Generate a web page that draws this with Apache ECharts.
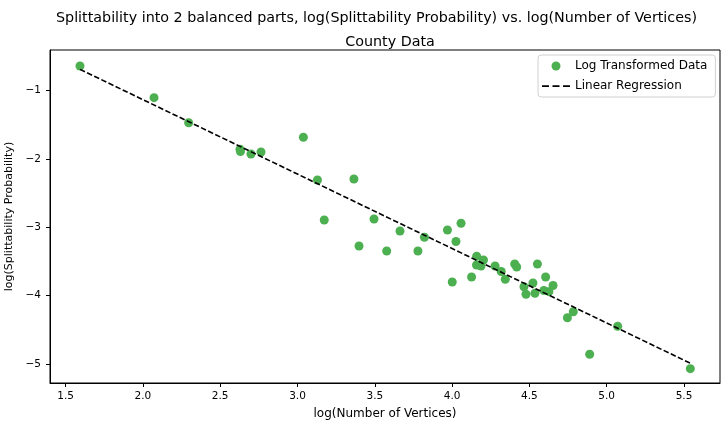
<!DOCTYPE html>
<html>
<head>
<meta charset="utf-8">
<script src="https://cdn.jsdelivr.net/npm/echarts@6/dist/echarts.min.js"></script>
<style>
  html, body { margin: 0; padding: 0; background: #fff; }
  #chart { width: 728px; height: 427px; }
</style>
</head>
<body>
<div id="chart"></div>
<script>
// log(Number of Vertices)
const logVertices = [
  1.593, 2.072, 2.296, 2.628, 2.631, 2.699, 2.764, 3.038, 3.129, 3.173,
  3.365, 3.398, 3.495, 3.577, 3.663, 3.779, 3.821, 3.970, 4.001, 4.025,
  4.058, 4.126, 4.159, 4.203, 4.158, 4.187, 4.278, 4.318, 4.344, 4.405,
  4.418, 4.465, 4.478, 4.523, 4.536, 4.552, 4.594, 4.605, 4.626, 4.653,
  4.746, 4.784, 4.890, 5.071, 5.541
]
// log(Splittability Probability)
const logProb = [
  -0.638, -1.102, -1.469, -1.858, -1.890, -1.927, -1.897, -1.682, -2.307, -2.893,
  -2.293, -3.274, -2.878, -3.347, -3.054, -3.347, -3.146, -3.040, -3.801, -3.208,
  -2.941, -3.728, -3.423, -3.479, -3.552, -3.567, -3.567, -3.647, -3.761, -3.537,
  -3.581, -3.870, -3.980, -3.816, -3.966, -3.537, -3.925, -3.728, -3.943, -3.852,
  -4.324, -4.237, -4.859, -4.449, -5.070
]
// regression line
const fitSlope = -1.090
const fitIntercept = 1.049
const xTicks = [1.5, 2.0, 2.5, 3.0, 3.5, 4.0, 4.5, 5.0, 5.5]
const yTicks = [-5, -4, -3, -2, -1]

const points = logVertices.map((x, i) => [x, logProb[i]])
const xFirst = Math.min(...logVertices)
const xLast = Math.max(...logVertices)
const fitLine = [xFirst, xLast].map(x => [x, fitIntercept + fitSlope * x])

const font = 'DejaVu Sans'
const minus = v => String(v).replace('-', '\u2212')

const chart = echarts.init(document.getElementById('chart'))
chart.setOption({
  animation: false,
  title: [
    {
      text: 'Splittability into 2 balanced parts, log(Splittability Probability) vs. log(Number of Vertices)',
      left: 51,
      top: 6,
      textStyle: { fontFamily: font, fontSize: 14.3, fontWeight: 'normal', color: '#000' }
    },
    {
      text: 'County Data',
      left: 385,
      textAlign: 'center',
      top: 30,
      textStyle: { fontFamily: font, fontSize: 14.3, fontWeight: 'normal', color: '#000' }
    }
  ],
  grid: {
    left: 50,
    top: 50,
    width: 670,
    height: 333,
    outerBoundsMode: 'none',
    containLabel: false,
    show: true,
    borderColor: '#000',
    borderWidth: 1
  },
  legend: {
    orient: 'vertical',
    left: 538,
    top: 55,
    padding: [5, 8, 5, 4],
    itemGap: 8,
    itemWidth: 28,
    itemHeight: 9,
    backgroundColor: '#fff',
    borderColor: '#d0d0d0',
    borderWidth: 1,
    borderRadius: 3,
    textStyle: { fontFamily: font, fontSize: 12, color: '#000' },
    data: [
      { name: 'Log Transformed Data', icon: 'circle' },
      {
        name: 'Linear Regression',
        icon: 'path://M0,0h6v1.5h-6z M9,0h6v1.5h-6z M18,0h6v1.5h-6z',
        itemStyle: { color: '#000' }
      }
    ]
  },
  xAxis: {
    type: 'value',
    min: 1.399,
    max: 5.733,
    name: 'log(Number of Vertices)',
    nameLocation: 'middle',
    nameGap: 25,
    nameTextStyle: { fontFamily: font, fontSize: 12, color: '#000' },
    axisLine: { show: true, onZero: false, lineStyle: { color: '#000' } },
    axisTick: { show: true, length: 4, lineStyle: { color: '#000' }, customValues: xTicks },
    axisLabel: {
      fontFamily: font, fontSize: 10.5, color: '#000', margin: 8,
      customValues: xTicks,
      formatter: v => v.toFixed(1)
    },
    splitLine: { show: false }
  },
  yAxis: {
    type: 'value',
    min: -5.280,
    max: -0.404,
    name: 'log(Splittability Probability)',
    nameLocation: 'middle',
    nameGap: 34,
    nameTextStyle: { fontFamily: font, fontSize: 11, color: '#000' },
    axisLine: { show: true, onZero: false, lineStyle: { color: '#000' } },
    axisTick: { show: true, length: 4, lineStyle: { color: '#000' }, customValues: yTicks },
    axisLabel: {
      fontFamily: font, fontSize: 10.5, color: '#000', margin: 9,
      customValues: yTicks,
      formatter: v => minus(v)
    },
    splitLine: { show: false }
  },
  series: [
    {
      name: 'Log Transformed Data',
      type: 'scatter',
      symbolSize: 9,
      itemStyle: { color: '#4caf50', opacity: 1 },
      data: points,
      z: 2
    },
    {
      name: 'Linear Regression',
      type: 'line',
      symbol: 'none',
      showSymbol: false,
      lineStyle: { color: '#000', width: 1.6, type: [5.5, 2.4] },
      itemStyle: { color: '#000' },
      data: fitLine,
      z: 3
    }
  ]
})
</script>
</body>
</html>
